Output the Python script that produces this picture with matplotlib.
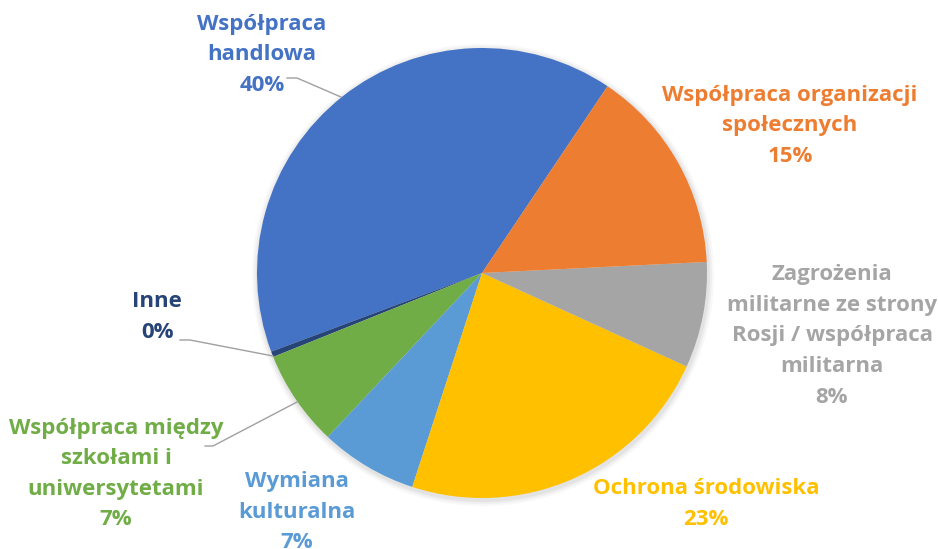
import matplotlib.pyplot as plt

plt.rcParams['font.family'] = ['Open Sans', 'DejaVu Sans']

# dane (kolejnosc przeciwnie do ruchu wskazowek zegara od startangle)
categories = ['Współpraca\nhandlowa', 'Inne', 'Współpraca między\nszkołami i\nuniwersytetami',
              'Wymiana\nkulturalna', 'Ochrona środowiska',
              'Zagrożenia\nmilitarne ze strony\nRosji / współpraca\nmilitarna',
              'Współpraca organizacji\nspołecznych']
values = [40.1, 0.4, 6.9, 7.0, 23.2, 7.6, 14.8]
colors = ['#4472C4', '#264478', '#70AD47', '#5B9BD5', '#FFC000', '#A5A5A5', '#ED7D31']

# polozenie etykiet (piksele, os y w gore)
label_pos = [(262, 494), (157, 232), (116, 75), (297, 37), (706, 45), (832, 213), (790, 423)]

W, H = 938, 549
fig = plt.figure(figsize=(W / 100, H / 100), dpi=100)
ax = fig.add_axes([0, 0, 1, 1])

cx, cy, r = 482, 276, 225

# delikatny cien
for k, a in [(6, 0.05), (4, 0.07), (2, 0.1)]:
    ax.add_patch(plt.Circle((cx + 1, cy - 2), r + k, color='#808080', alpha=a, lw=0))

ax.pie(values, colors=colors, startangle=56.1, counterclock=True,
       center=(cx, cy), radius=r, frame=True,
       wedgeprops=dict(linewidth=0))
ax.set_xlim(0, W)
ax.set_ylim(0, H)
ax.axis('off')

for cat, v, c, (x, y) in zip(categories, values, colors, label_pos):
    ax.text(x, y, f'{cat}\n{v:.0f}%', color=c, fontsize=16, fontweight='bold',
            ha='center', va='center', multialignment='center', linespacing=1.6)

# linie odniesienia
lc = '#A0A0A0'
ax.plot([287, 297, 341], [H - 78, H - 78, H - 97], color=lc, lw=1)
ax.plot([180, 190, 273], [H - 340, H - 340, H - 356], color=lc, lw=1)
ax.plot([205, 213, 297], [H - 446, H - 446, H - 402], color=lc, lw=1)

plt.savefig('out.png', dpi=100)
